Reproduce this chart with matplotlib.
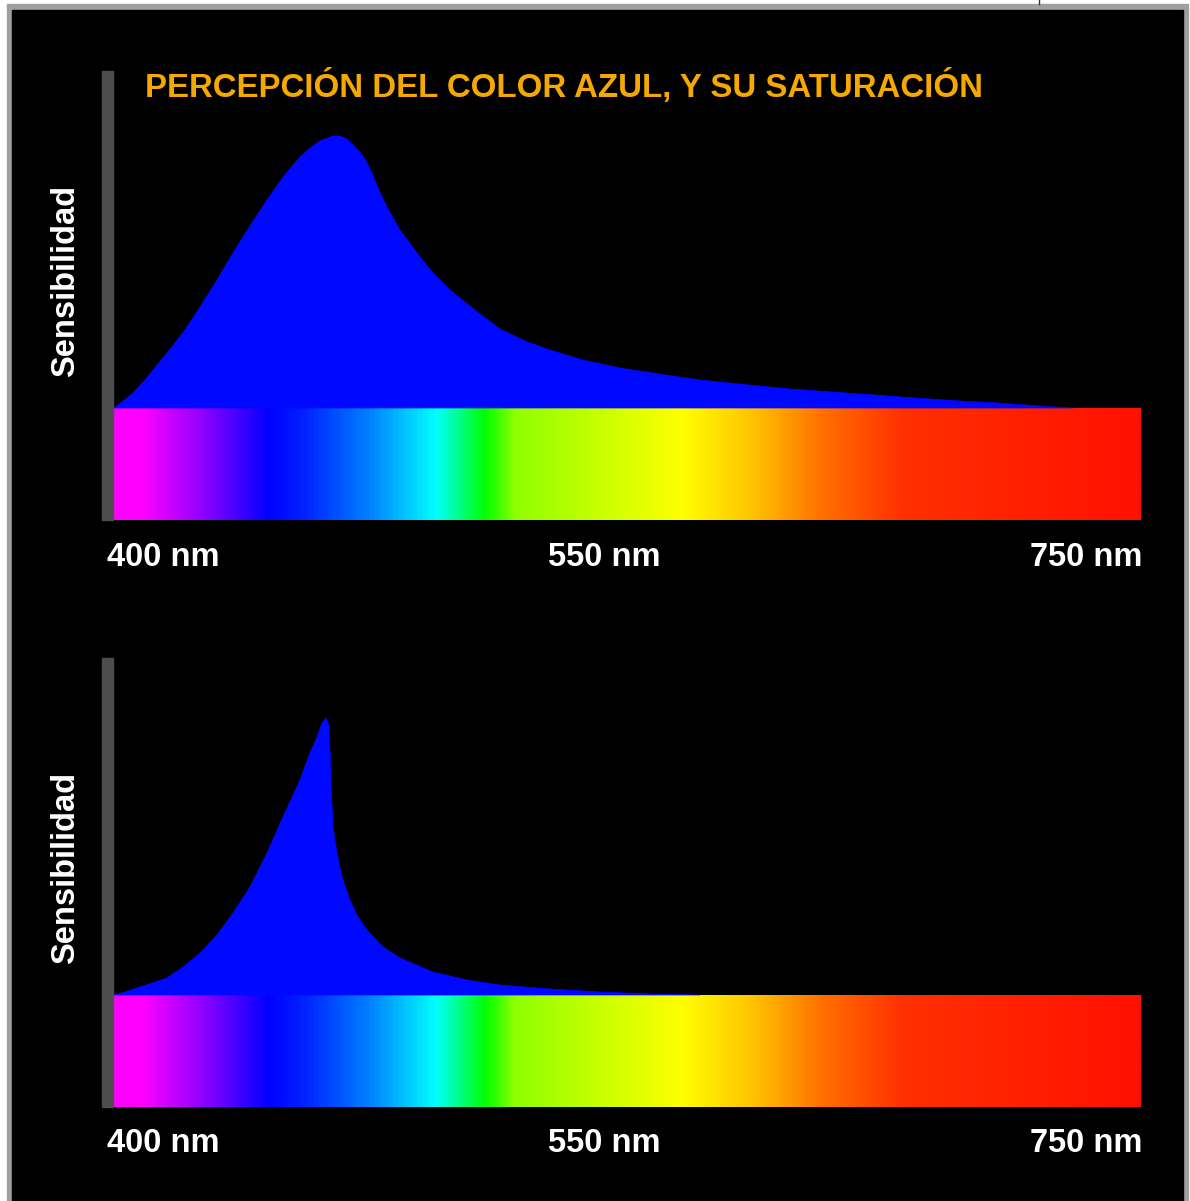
import numpy as np
import matplotlib.pyplot as plt
from matplotlib.colors import LinearSegmentedColormap
from matplotlib.patches import Rectangle

# Image is drawn in pixel coordinates (x right, y down)
W, H = 1190, 1201

title = "PERCEPCIÓN DEL COLOR AZUL, Y SU SATURACIÓN"
ylabel = "Sensibilidad"
tick_labels = ["400 nm", "550 nm", "750 nm"]

# spectrum bar gradient stops (x position, colour)
spec_x = [113, 140, 200, 267, 301, 368, 435, 485, 515, 683, 756, 823, 904, 1141]
spec_c = ["#ff00ff", "#ff00ff", "#9000ff", "#0000ff", "#0020ff", "#0080ff",
          "#00ffff", "#00ff00", "#90ff00", "#ffff00", "#ffc000", "#ff7000",
          "#ff3000", "#ff1000"]

# top curve: normal blue perception (x, y in pixels)
top_x = [113, 118, 133, 145, 167, 185, 200, 217, 233, 250, 267, 283, 300, 310, 320,
         333, 340, 347, 353, 360, 366, 372, 378, 387, 400, 417, 433, 450, 475, 500,
         525, 550, 583, 620, 666, 700, 749, 790, 832, 875, 915, 960, 998, 1040, 1073]
top_y = [408, 405, 393, 380, 353, 330, 307, 280, 253, 226, 200, 177, 157, 148, 141,
         136, 136, 139, 145, 152, 161, 173, 188, 207, 230, 253, 273, 290, 310, 329,
         341, 350, 360, 368, 375, 380, 385, 389, 392, 395, 398, 401, 403, 406, 408]

# bottom curve: saturated blue
bot_x = [113, 125, 140, 155, 167, 183, 200, 217, 233, 250, 267, 283, 300, 310, 317,
         322, 326, 329, 330, 331, 333, 337, 342, 350, 358, 367, 383, 400, 433, 467,
         500, 550, 600, 650, 700]
bot_y = [995, 992, 987, 982, 978, 967, 953, 935, 913, 887, 853, 817, 780, 753, 737,
         723, 718, 725, 750, 783, 827, 853, 877, 900, 917, 930, 947, 958, 972, 980,
         985, 989, 992, 994, 995]

panel_offsets = [0, 587]

fig = plt.figure(figsize=(W / 100, H / 100), dpi=100)
fig.patch.set_facecolor("white")
ax = fig.add_axes([0, 0, 1, 1])
ax.set_xlim(0, W)
ax.set_ylim(H, 0)
ax.axis("off")

# frame
ax.add_patch(Rectangle((7, 4), 1181, 1200, color="#a0a0a0", zorder=0))
ax.add_patch(Rectangle((12, 10), 1171, 1195, color="black", zorder=1))
ax.plot([1039, 1039], [0, 4], color="#333333", lw=1, zorder=1)

cmap = LinearSegmentedColormap.from_list(
    "spec", [((x - spec_x[0]) / (spec_x[-1] - spec_x[0]), c) for x, c in zip(spec_x, spec_c)])
grad = np.linspace(0, 1, 600).reshape(1, -1)

curves = [(top_x, top_y), (bot_x, bot_y)]
for off, (cx, cy) in zip(panel_offsets, curves):
    base = 408 + off
    # spectrum bar
    ax.imshow(grad, cmap=cmap, aspect="auto", extent=(113, 1141, base + 112, base),
              zorder=2, interpolation="bilinear")
    # sensitivity curve
    px = list(cx) + [cx[-1], cx[0]]
    py = list(cy) + [base, base]
    ax.fill(px, py, color="#0008ff", zorder=3, lw=0.5, ec="#0008ff")
    # gray axis bar
    ax.add_patch(Rectangle((102, 71 + off), 11, 449, color="#4d4d4d", zorder=4))
    # tick labels
    ly = 557 + off
    ax.text(107, ly, tick_labels[0], color="white", fontsize=23.5, fontweight="bold",
            family="Liberation Sans", ha="left", va="center", zorder=5)
    ax.text(604, ly, tick_labels[1], color="white", fontsize=23.5, fontweight="bold",
            family="Liberation Sans", ha="center", va="center", zorder=5)
    ax.text(1142, ly, tick_labels[2], color="white", fontsize=23.5, fontweight="bold",
            family="Liberation Sans", ha="right", va="center", zorder=5)
    # y label
    ax.text(66, 281 + off, ylabel, color="white", fontsize=23.5, fontweight="bold",
            family="Liberation Sans", rotation=90, ha="center", va="center", zorder=5)

ax.text(145, 87, title, color="#f5a900", fontsize=23.8, fontweight="bold",
        family="Liberation Sans", ha="left", va="center", zorder=5)

fig.savefig("out.png", dpi=100, facecolor=fig.get_facecolor())
